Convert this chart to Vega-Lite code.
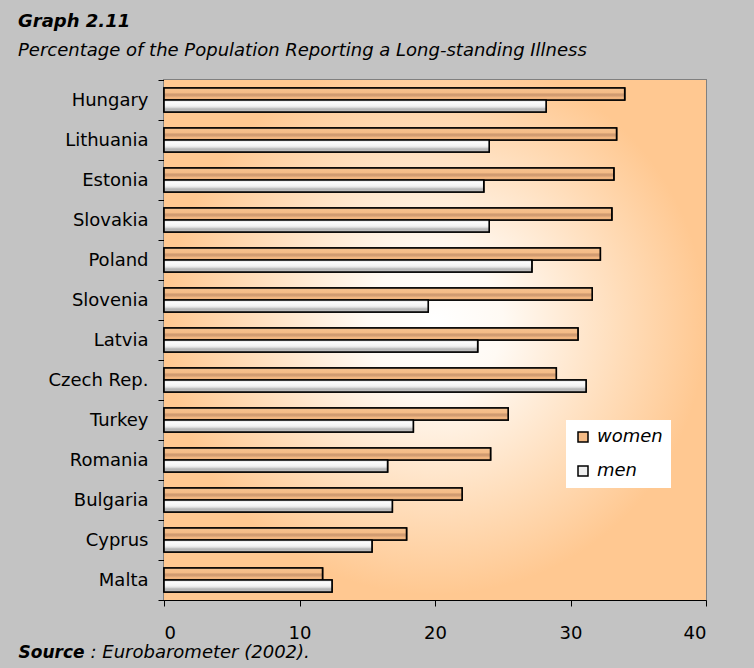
{
  "$schema": "https://vega.github.io/schema/vega-lite/v6.json",
  "width": 542,
  "height": 520,
  "autosize": {"type": "none"},
  "padding": {"left": 164, "top": 80, "right": 48, "bottom": 68},
  "background": "#c3c3c3",
  "title": {
    "text": "Graph 2.11",
    "subtitle": "Percentage of the Population Reporting a Long-standing Illness",
    "anchor": "start",
    "frame": "group",
    "dx": -146,
    "offset": 11,
    "font": "DejaVu Sans",
    "fontSize": 18,
    "fontWeight": "bold",
    "fontStyle": "italic",
    "color": "#000",
    "subtitleFont": "DejaVu Sans",
    "subtitleFontSize": 18,
    "subtitleFontStyle": "italic",
    "subtitleColor": "#000",
    "subtitlePadding": 11
  },
  "config": {
    "view": {"stroke": "#808080", "strokeWidth": 2},
    "axis": {
      "labelFont": "DejaVu Sans",
      "labelFontSize": 18,
      "labelColor": "#000",
      "domainColor": "#000",
      "tickColor": "#000",
      "grid": false
    }
  },
  "datasets": {
    "rows": [
      {"country": "Hungary", "gender": "women", "value": 34.0},
      {"country": "Hungary", "gender": "men", "value": 28.2},
      {"country": "Lithuania", "gender": "women", "value": 33.4},
      {"country": "Lithuania", "gender": "men", "value": 24.0},
      {"country": "Estonia", "gender": "women", "value": 33.2},
      {"country": "Estonia", "gender": "men", "value": 23.6},
      {"country": "Slovakia", "gender": "women", "value": 33.05},
      {"country": "Slovakia", "gender": "men", "value": 24.0},
      {"country": "Poland", "gender": "women", "value": 32.2},
      {"country": "Poland", "gender": "men", "value": 27.15},
      {"country": "Slovenia", "gender": "women", "value": 31.6},
      {"country": "Slovenia", "gender": "men", "value": 19.5},
      {"country": "Latvia", "gender": "women", "value": 30.55},
      {"country": "Latvia", "gender": "men", "value": 23.15},
      {"country": "Czech Rep.", "gender": "women", "value": 28.95},
      {"country": "Czech Rep.", "gender": "men", "value": 31.15},
      {"country": "Turkey", "gender": "women", "value": 25.4},
      {"country": "Turkey", "gender": "men", "value": 18.4},
      {"country": "Romania", "gender": "women", "value": 24.1},
      {"country": "Romania", "gender": "men", "value": 16.5},
      {"country": "Bulgaria", "gender": "women", "value": 22.0},
      {"country": "Bulgaria", "gender": "men", "value": 16.85},
      {"country": "Cyprus", "gender": "women", "value": 17.9},
      {"country": "Cyprus", "gender": "men", "value": 15.35},
      {"country": "Malta", "gender": "women", "value": 11.7},
      {"country": "Malta", "gender": "men", "value": 12.4}
    ]
  },
  "encoding": {
    "y": {
      "field": "country",
      "type": "nominal",
      "sort": null,
      "scale": {"paddingInner": 0, "paddingOuter": 0},
      "axis": {
        "title": ": Eurobarometer (2002).",
        "titleAngle": 0,
        "titleX": -74,
        "titleY": 577,
        "titleAlign": "left",
        "titleBaseline": "alphabetic",
        "titleFont": "DejaVu Sans",
        "titleFontSize": 18,
        "titleFontStyle": "italic",
        "titleFontWeight": "normal",
        "titleColor": "#000",
        "tickBand": "extent",
        "tickSize": 6,
        "labelPadding": 10
      }
    },
    "yOffset": {"field": "gender", "type": "nominal", "sort": ["women", "men"], "scale": {"domain": ["women", "men"], "paddingInner": 0, "paddingOuter": 0.667}},
    "x": {
      "field": "value",
      "type": "quantitative",
      "scale": {"domain": [0, 40]},
      "axis": {
        "values": [0, 10, 20, 30, 40],
        "tickSize": 6,
        "labelPadding": 18,
        "title": "Source",
        "titleX": -146,
        "titleY": 57,
        "titleAlign": "left",
        "titleBaseline": "alphabetic",
        "titleFont": "DejaVu Sans",
        "titleFontSize": 17,
        "titleFontStyle": "italic",
        "titleFontWeight": "bold",
        "titleColor": "#000"
      }
    }
  },
  "layer": [
    {
      "data": {"values": [{"lo": 0, "hi": 40}]},
      "mark": {
        "type": "rect",
        "fill": {
          "gradient": "radial",
          "x1": 0.5, "y1": 0.47, "r1": 0,
          "x2": 0.5, "y2": 0.47, "r2": 0.5,
          "stops": [
            {"offset": 0, "color": "#ffffff"},
            {"offset": 0.25, "color": "#fffaf4"},
            {"offset": 0.7, "color": "#ffdcb8"},
            {"offset": 1, "color": "#ffc891"}
          ]
        }
      },
      "encoding": {
        "x": {"field": "lo", "type": "quantitative"},
        "x2": {"field": "hi"},
        "y": null,
        "yOffset": null
      }
    },
    {
      "data": {"name": "rows"},
      "mark": {"type": "bar", "stroke": "#000", "strokeWidth": 1.6},
      "encoding": {
        "color": {
          "field": "gender",
          "type": "nominal",
          "sort": ["women", "men"],
          "scale": {"domain": ["women", "men"], "range": ["#f4bb86", "#efefef"]},
          "legend": {
            "title": null,
            "orient": "none",
            "legendX": 402,
            "legendY": 340,
            "fillColor": "#ffffff",
            "padding": 8,
            "symbolType": "square",
            "symbolSize": 100,
            "symbolStrokeColor": "#000",
            "symbolStrokeWidth": 1.5,
            "labelFont": "DejaVu Sans",
            "labelFontSize": 18,
            "labelFontStyle": "italic",
            "labelColor": "#000",
            "labelOffset": 5,
            "rowPadding": 16
          }
        }
      }
    },
    {
      "data": {"name": "rows"},
      "transform": [{"filter": "datum.gender === 'women'"}],
      "mark": {
        "type": "bar", "stroke": "#000", "strokeWidth": 1.6,
        "fill": {
          "gradient": "linear", "x1": 0, "y1": 0, "x2": 0, "y2": 1,
          "stops": [
            {"offset": 0, "color": "#f6c290"},
            {"offset": 0.4, "color": "#f4bb86"},
            {"offset": 0.5, "color": "#cf9a70"},
            {"offset": 0.68, "color": "#d39d72"},
            {"offset": 0.75, "color": "#f2b883"},
            {"offset": 1, "color": "#eeb07a"}
          ]
        }
      }
    },
    {
      "data": {"name": "rows"},
      "transform": [{"filter": "datum.gender === 'men'"}],
      "mark": {
        "type": "bar", "stroke": "#000", "strokeWidth": 1.6,
        "fill": {
          "gradient": "linear", "x1": 0, "y1": 0, "x2": 0, "y2": 1,
          "stops": [
            {"offset": 0, "color": "#cfcfcf"},
            {"offset": 0.18, "color": "#fbfbfb"},
            {"offset": 0.5, "color": "#f2f2f2"},
            {"offset": 0.62, "color": "#dcdcdc"},
            {"offset": 0.75, "color": "#b4b4b4"},
            {"offset": 1, "color": "#c4c4c4"}
          ]
        }
      }
    }
  ]
}
